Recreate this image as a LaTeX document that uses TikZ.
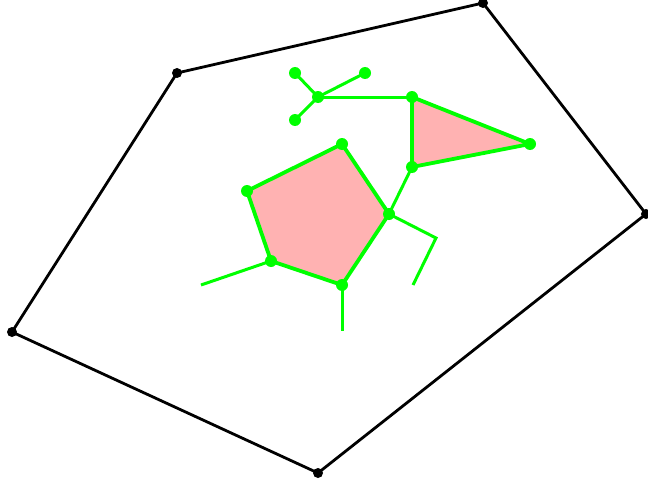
\documentclass[tikz,border=0pt]{standalone}
\begin{document}
\begin{tikzpicture}[x=1pt,y=-1pt,
  bdot/.style={circle,fill=black,inner sep=0pt,minimum size=10pt},
  gdot/.style={circle,fill=green,inner sep=0pt,minimum size=12pt},
  bline/.style={draw=black,line width=2.8pt},
  gline/.style={draw=green,line width=3pt},
  gpoly/.style={draw=green,line width=3.8pt,fill=red!30,line join=round}]
\useasboundingbox (0,0) rectangle (648,487);
% black hull
\coordinate (A) at (177,73);
\coordinate (B) at (483,3);
\coordinate (C) at (646,214);
\coordinate (D) at (318,473);
\coordinate (E) at (12,332);
\draw[bline] (A) -- (B) -- (C) -- (D) -- (E) -- cycle;
\foreach \p in {A,B,C,D,E} \node[bdot] at (\p) {};
% green points
\coordinate (s) at (318,97);
\coordinate (s1) at (295,73);
\coordinate (s2) at (365,73);
\coordinate (s3) at (295,120);
\coordinate (t1) at (412,97);
\coordinate (t2) at (530,144);
\coordinate (t3) at (412,167);
\coordinate (p1) at (342,144);
\coordinate (p2) at (389,214);
\coordinate (p3) at (342,285);
\coordinate (p4) at (271,261);
\coordinate (p5) at (247,191);
\coordinate (q1) at (436,238);
\coordinate (q2) at (413,285);
\coordinate (r1) at (201,285);
\coordinate (r2) at (342,331);
\draw[gpoly] (t1) -- (t2) -- (t3) -- cycle;
\draw[gpoly] (p1) -- (p2) -- (p3) -- (p4) -- (p5) -- cycle;
\draw[gline] (s) -- (s1);
\draw[gline] (s) -- (s2);
\draw[gline] (s) -- (s3);
\draw[gline] (s) -- (t1);
\draw[gline] (t3) -- (p2);
\draw[gline] (p2) -- (q1) -- (q2);
\draw[gline] (p4) -- (r1);
\draw[gline] (p3) -- (r2);
\foreach \p in {s,s1,s2,s3,t1,t2,t3,p1,p2,p3,p4,p5} \node[gdot] at (\p) {};
\end{tikzpicture}
\end{document}
